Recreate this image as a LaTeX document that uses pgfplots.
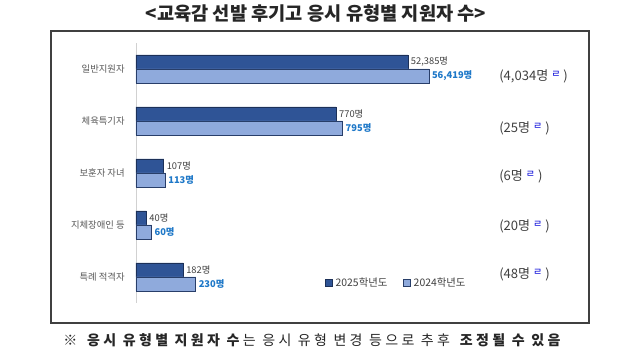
\documentclass[border=0pt]{standalone}
\usepackage{pgfplots}
\pgfplotsset{compat=1.18}
\usepackage{fontspec}
\setmainfont{Noto Sans CJK KR}
\definecolor{dark}{RGB}{47,84,150}
\definecolor{darkedge}{RGB}{28,48,88}
\definecolor{light}{RGB}{143,170,220}
\definecolor{lightedge}{RGB}{40,62,105}
\definecolor{lbltxt}{RGB}{64,64,64}
\definecolor{blutxt}{RGB}{30,120,200}
\definecolor{cattxt}{RGB}{89,89,89}
\begin{document}
\begin{tikzpicture}
\begin{scope}[x=0.75pt,y=0.75pt]
\useasboundingbox (0,0) rectangle (640,360);
\fill[white] (0,0) rectangle (640,360);
\draw[black!75, line width=0.9pt] (51,329) rectangle (589,37);
\end{scope}
\begin{axis}[
  at={(102pt,42.75pt)}, anchor=south west,
  scale only axis, width=292.5pt, height=195pt,
  xbar, bar width=10.5pt,
  xmin=0, xmax=1500, ymin=-0.5, ymax=4.5,
  axis x line=none, axis y line=left,
  y axis line style={black!18, line width=0.6pt, -},
  major tick length=0pt,
  ytick={0,1,2,3,4},
  yticklabels={특례 적격자, 지체장애인 등, 보훈자 자녀, 체육특기자, 일반지원자},
  yticklabel style={font=\fontsize{7}{8}\selectfont, text=cattxt, xshift=-5pt},
  point meta=explicit symbolic,
  nodes near coords,
  legend style={at={(0.485,0.077)}, anchor=west, draw=none, fill=none,
    font=\fontsize{7.8}{9}\selectfont, text=lbltxt, legend columns=2,
    /tikz/every even column/.append style={column sep=10pt}, inner sep=0pt},
  legend image code/.code={\draw[#1] (0pt,-2.6pt) rectangle (5.2pt,2.6pt);},
]
\addplot[fill=dark, draw=darkedge, line width=0.5pt, bar shift=5.25pt,
  nodes near coords style={font=\fontsize{7}{8}\selectfont, text=lbltxt, anchor=west, inner xsep=2pt}]
  coordinates {(1046,4) [52,385명] (770,3) [770명] (107,2) [107명] (40,1) [40명] (182,0) [182명]};
\addlegendentry{2025학년도}
\addplot[fill=light, draw=lightedge, line width=0.5pt, bar shift=-5.25pt,
  nodes near coords style={font=\fontsize{7}{8}\selectfont\bfseries, text=blutxt, anchor=west, inner xsep=2pt}]
  coordinates {(1127,4) [56,419명] (795,3) [795명] (113,2) [113명] (60,1) [60명] (230,0) [230명]};
\addlegendentry{2024학년도}
\end{axis}
\begin{scope}[x=0.75pt,y=0.75pt]
\newcommand{\dn}{\raisebox{2.2pt}{\color{blue!85!black}\fontsize{7.5}{7.5}\selectfont ㄹ}}
\begin{scope}[every node/.style={anchor=west, font=\fontsize{9.8}{11}\selectfont, text=lbltxt, inner sep=0pt}]
\node at (499,284) {(4,034명 \dn\ )};
\node at (499,232) {(25명 \dn\ )};
\node at (499,184) {(6명 \dn\ )};
\node at (499,134) {(20명 \dn\ )};
\node at (499,86) {(48명 \dn\ )};
\end{scope}
\node[font=\fontsize{14}{16}\selectfont\bfseries, text=black!85, inner sep=0pt] at (316,347) {<교육감 선발 후기고 응시 유형별 지원자 수>};
\node[anchor=west, font=\fontsize{10.5}{12}\selectfont\addfontfeature{LetterSpace=24}, text=black!85, inner sep=0pt] at (63,20)
 {※ \textbf{응시 유형별 지원자 수}는 응시 유형 변경 등으로 추후 \textbf{조정될 수 있음}};
\end{scope}
\end{tikzpicture}
\end{document}
